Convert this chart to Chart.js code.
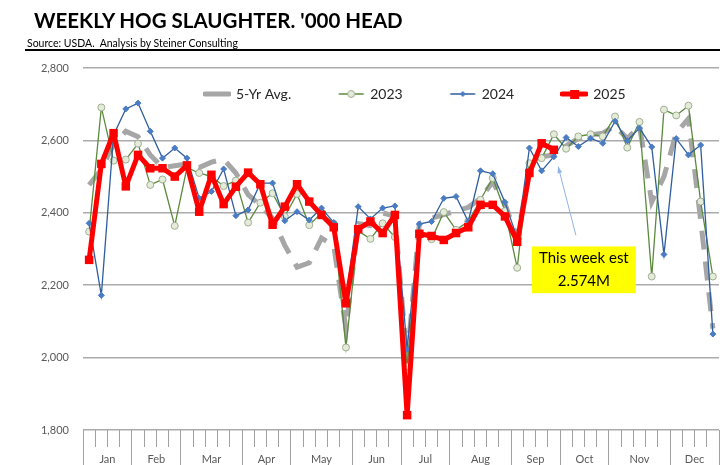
<!DOCTYPE html>
<html>
<head>
<meta charset="utf-8">
<script src="https://cdn.jsdelivr.net/npm/chart.js@4"></script>
<style>
  html, body { margin: 0; padding: 0; background: #fff; }
  #wrap { position: relative; width: 725px; height: 465px; overflow: hidden; }
  #grafico { position: absolute; left: 0; top: 0; }
  #titulo { position: absolute; left: 34px; top: 8px; font: bold 20.5px Lato, sans-serif; color: #000; white-space: nowrap; }
  #fonte { position: absolute; left: 25px; top: 37px; width: 693px; padding-left: 2px; border-bottom: 2px solid #000;
           font: 10.5px Lato, sans-serif; line-height: 12px; color: #000; white-space: pre; }
</style>
</head>
<body>
<div id="wrap">
  <canvas id="grafico" width="725" height="465"></canvas>
  <div id="titulo">WEEKLY HOG SLAUGHTER. '000 HEAD</div>
  <div id="fonte">Source: USDA.  Analysis by Steiner Consulting</div>
</div>
<script>
// dados (mil cabecas por semana)
var meses = ['Jan', 'Feb', 'Mar', 'Apr', 'May', 'Jun', 'Jul', 'Aug', 'Sep', 'Oct', 'Nov', 'Dec'];
var semanasPorMes = [4, 4, 5, 4, 5, 4, 4, 5, 4, 4, 5, 4];
var ticksY = [1800, 2000, 2200, 2400, 2600, 2800];

var media5 = [2477, 2520, 2590, 2625, 2610, 2560, 2525, 2530, 2535, 2525,
              2540, 2548, 2510, 2450, 2420, 2385, 2310, 2250, 2262, 2330,
              2310, 2080, 2370, 2365, 2400, 2390, 1990, 2370, 2385, 2395,
              2405, 2415, 2440, 2485, 2425, 2330, 2520, 2555, 2560, 2585,
              2605, 2615, 2620, 2640, 2605, 2640, 2430, 2500, 2620, 2660,
              2380, 2080];
var ano2023 = [2348, 2691, 2544, 2547, 2591, 2477, 2492, 2364, 2525, 2510,
               2500, 2474, 2489, 2373, 2428, 2454, 2390, 2452, 2366, 2400,
               2370, 2028, 2350, 2328, 2371, 2333, 1975, 2345, 2327, 2402,
               2353, 2376, 2436, 2496, 2405, 2248, 2537, 2551, 2617, 2577,
               2611, 2617, 2611, 2666, 2580, 2651, 2224, 2685, 2669, 2696,
               2431, 2224];
var ano2024 = [2371, 2172, 2615, 2687, 2703, 2625, 2551, 2579, 2551, 2440,
               2459, 2521, 2392, 2408, 2482, 2482, 2378, 2403, 2380, 2413,
               2373, 2160, 2417, 2383, 2413, 2419, 2023, 2369, 2376, 2440,
               2445, 2376, 2516, 2508, 2429, 2330, 2579, 2516, 2555, 2608,
               2583, 2606, 2592, 2653, 2599, 2634, 2582, 2285, 2605, 2560,
               2587, 2065];
var ano2025 = [2270, 2535, 2620, 2473, 2560, 2523, 2523, 2500, 2531, 2403,
               2505, 2424, 2472, 2511, 2479, 2367, 2417, 2479, 2431, 2394,
               2360, 2150, 2355, 2376, 2344, 2394, 1841, 2342, 2336, 2325,
               2344, 2360, 2422, 2422, 2390, 2320, 2510, 2592, 2574];

// nota amarela: caixa e seta em unidades do grafico (semana, mil cabecas)
var notaTexto = ['This week est', '2.574M'];
var notaCaixa = { x0: 36.7, x1: 45.2, yTopo: 2307, yBase: 2178 };
var notaSeta = { x0: 40.3, y0: 2338, x1: 38.85, y1: 2528 };

var limites = [0];
semanasPorMes.forEach(n => limites.push(limites[limites.length - 1] + n));
var centros = meses.map((m, i) => (limites[i] + limites[i + 1]) / 2);
var semanas = [];
for (var s = 0; s <= limites[limites.length - 1]; s++) semanas.push(s);

function pontos(valores) {
    return valores.map((v, i) => ({ x: i + 0.5, y: v }));
}

function simbolo(cor, espessura, marcador) {
    var c = document.createElement('canvas');
    c.width = 28; c.height = 14;
    var g = c.getContext('2d');
    g.strokeStyle = cor;
    g.lineWidth = espessura;
    g.lineCap = 'round';
    g.beginPath(); g.moveTo(2, 7); g.lineTo(26, 7); g.stroke();
    if (marcador) marcador(g);
    return c;
}

var simbolos = [
    simbolo('#a6a6a6', 5),
    simbolo('#5b8a3c', 1.3, g => {
        g.beginPath(); g.arc(14, 7, 3.5, 0, Math.PI * 2);
        g.fillStyle = '#e4ecd9'; g.fill();
        g.strokeStyle = '#9fae92'; g.lineWidth = 1; g.stroke();
    }),
    simbolo('#2f5e9e', 1.3, g => {
        g.beginPath(); g.moveTo(14, 4); g.lineTo(17, 7); g.lineTo(14, 10); g.lineTo(11, 7); g.closePath();
        g.fillStyle = '#4a7cc4'; g.fill();
    }),
    simbolo('#ff0000', 5, g => {
        g.fillStyle = '#ff0000'; g.fillRect(10, 3, 9, 9);
    })
];

var posicaoLegenda = {
    id: 'posicaoLegenda',
    beforeInit: function(chart) {
        var lg = chart.legend;
        var fitOriginal = lg.fit;
        lg.fit = function() { fitOriginal.call(this); this.height = 0; };
    },
    afterLayout: function(chart) {
        var lg = chart.legend;
        var pad = lg.options.labels.padding;
        lg.left = 205 - pad;
        lg.right = 725;
        lg.width = lg.right - lg.left;
        lg.top = 87 - pad;
        lg.bottom = lg.top + 2 * pad + 14;
    }
};

var nota = {
    id: 'nota',
    afterDatasetsDraw: function(chart) {
        var ctx = chart.ctx, x = chart.scales.x, y = chart.scales.y;
        var l = x.getPixelForValue(notaCaixa.x0), r = x.getPixelForValue(notaCaixa.x1);
        var t = y.getPixelForValue(notaCaixa.yTopo), b = y.getPixelForValue(notaCaixa.yBase);
        ctx.save();
        ctx.fillStyle = '#ffff00';
        ctx.fillRect(l, t, r - l, b - t);
        ctx.fillStyle = '#000';
        ctx.font = '15px Lato';
        ctx.textAlign = 'center';
        ctx.textBaseline = 'middle';
        var h = (b - t) / notaTexto.length;
        notaTexto.forEach((linha, i) => ctx.fillText(linha, (l + r) / 2, t + h * (i + 0.5)));

        var ax = x.getPixelForValue(notaSeta.x0), ay = y.getPixelForValue(notaSeta.y0);
        var bx = x.getPixelForValue(notaSeta.x1), by = y.getPixelForValue(notaSeta.y1);
        var ang = Math.atan2(by - ay, bx - ax);
        ctx.strokeStyle = '#8fb4e3';
        ctx.fillStyle = '#8fb4e3';
        ctx.lineWidth = 1;
        ctx.beginPath(); ctx.moveTo(ax, ay); ctx.lineTo(bx, by); ctx.stroke();
        ctx.beginPath();
        ctx.moveTo(bx, by);
        ctx.lineTo(bx - 7 * Math.cos(ang - 0.35), by - 7 * Math.sin(ang - 0.35));
        ctx.lineTo(bx - 7 * Math.cos(ang + 0.35), by - 7 * Math.sin(ang + 0.35));
        ctx.closePath(); ctx.fill();
        ctx.restore();
    }
};

function plotar() {
    var canvas = document.getElementById('grafico');
    Chart.defaults.font.family = 'Lato, sans-serif';

    var config = {
        type: 'line',
        data: {
            datasets: [{
                label: '5-Yr Avg.',
                data: pontos(media5),
                borderColor: '#a6a6a6',
                borderWidth: 5,
                borderDash: [19, 12],
                pointRadius: 0,
                order: 4
            }, {
                label: '2023',
                data: pontos(ano2023),
                borderColor: '#5b8a3c',
                borderWidth: 1.3,
                pointStyle: 'circle',
                pointRadius: 3.5,
                pointBackgroundColor: '#e4ecd9',
                pointBorderColor: '#9fae92',
                pointBorderWidth: 1,
                order: 3
            }, {
                label: '2024',
                data: pontos(ano2024),
                borderColor: '#2f5e9e',
                borderWidth: 1.3,
                pointStyle: 'rectRot',
                pointRadius: 3,
                pointBackgroundColor: '#4a7cc4',
                pointBorderColor: '#4a7cc4',
                pointBorderWidth: 1,
                order: 2
            }, {
                label: '2025',
                data: pontos(ano2025),
                borderColor: '#ff0000',
                borderWidth: 5,
                borderJoinStyle: 'round',
                pointStyle: 'rect',
                pointRadius: 6,
                pointBackgroundColor: '#ff0000',
                pointBorderWidth: 0,
                order: 1
            }]
        },
        options: {
            responsive: false,
            animation: false,
            events: [],
            layout: { padding: { top: 68, bottom: 0, left: 0, right: 5 } },
            plugins: {
                tooltip: { enabled: false },
                legend: {
                    display: true,
                    position: 'top',
                    align: 'start',
                    labels: {
                        usePointStyle: true,
                        pointStyleWidth: 24,
                        padding: 48,
                        color: '#262626',
                        font: { size: 14 },
                        sort: (a, b) => a.datasetIndex - b.datasetIndex,
                        generateLabels: function(chart) {
                            var itens = Chart.defaults.plugins.legend.labels.generateLabels(chart);
                            itens.forEach(it => { it.pointStyle = simbolos[it.datasetIndex]; });
                            return itens;
                        }
                    }
                }
            },
            scales: {
                x: {
                    type: 'linear',
                    position: 'bottom',
                    min: 0,
                    max: 52,
                    afterBuildTicks: s => { s.ticks = semanas.map(v => ({ value: v })); },
                    grid: { drawOnChartArea: false, tickLength: 17, color: '#a0a0a0', lineWidth: 1 },
                    border: { display: false },
                    ticks: { display: false }
                },
                xLimites: {
                    type: 'linear',
                    axis: 'x',
                    position: 'bottom',
                    min: 0,
                    max: 52,
                    afterBuildTicks: s => { s.ticks = limites.map(v => ({ value: v })); },
                    grid: { drawOnChartArea: false, tickLength: 18, color: '#a0a0a0', lineWidth: 1 },
                    border: { display: false },
                    ticks: { display: false }
                },
                xMeses: {
                    type: 'linear',
                    axis: 'x',
                    position: { y: ticksY[0] },
                    min: 0,
                    max: 52,
                    afterBuildTicks: s => { s.ticks = centros.map(v => ({ value: v })); },
                    afterFit: s => { s.paddingLeft = 0; s.paddingRight = 0; },
                    grid: { display: false, drawTicks: false },
                    border: { display: false },
                    ticks: {
                        autoSkip: false,
                        maxRotation: 0,
                        padding: 23,
                        color: '#595959',
                        font: { size: 11 },
                        callback: v => meses[centros.indexOf(v)]
                    }
                },
                y: {
                    min: ticksY[0],
                    max: ticksY[ticksY.length - 1],
                    afterBuildTicks: s => { s.ticks = ticksY.map(v => ({ value: v })); },
                    afterFit: s => { s.width = 83; },
                    grid: { color: '#ababab', lineWidth: 1.5, drawTicks: false },
                    border: { display: false },
                    ticks: {
                        padding: 14,
                        color: '#595959',
                        font: { size: 11 },
                        callback: v => v.toLocaleString('en-US')
                    }
                }
            }
        },
        plugins: [posicaoLegenda, nota]
    };

    window.grafico = new Chart(canvas, config);
}

plotar();
</script>
</body>
</html>
